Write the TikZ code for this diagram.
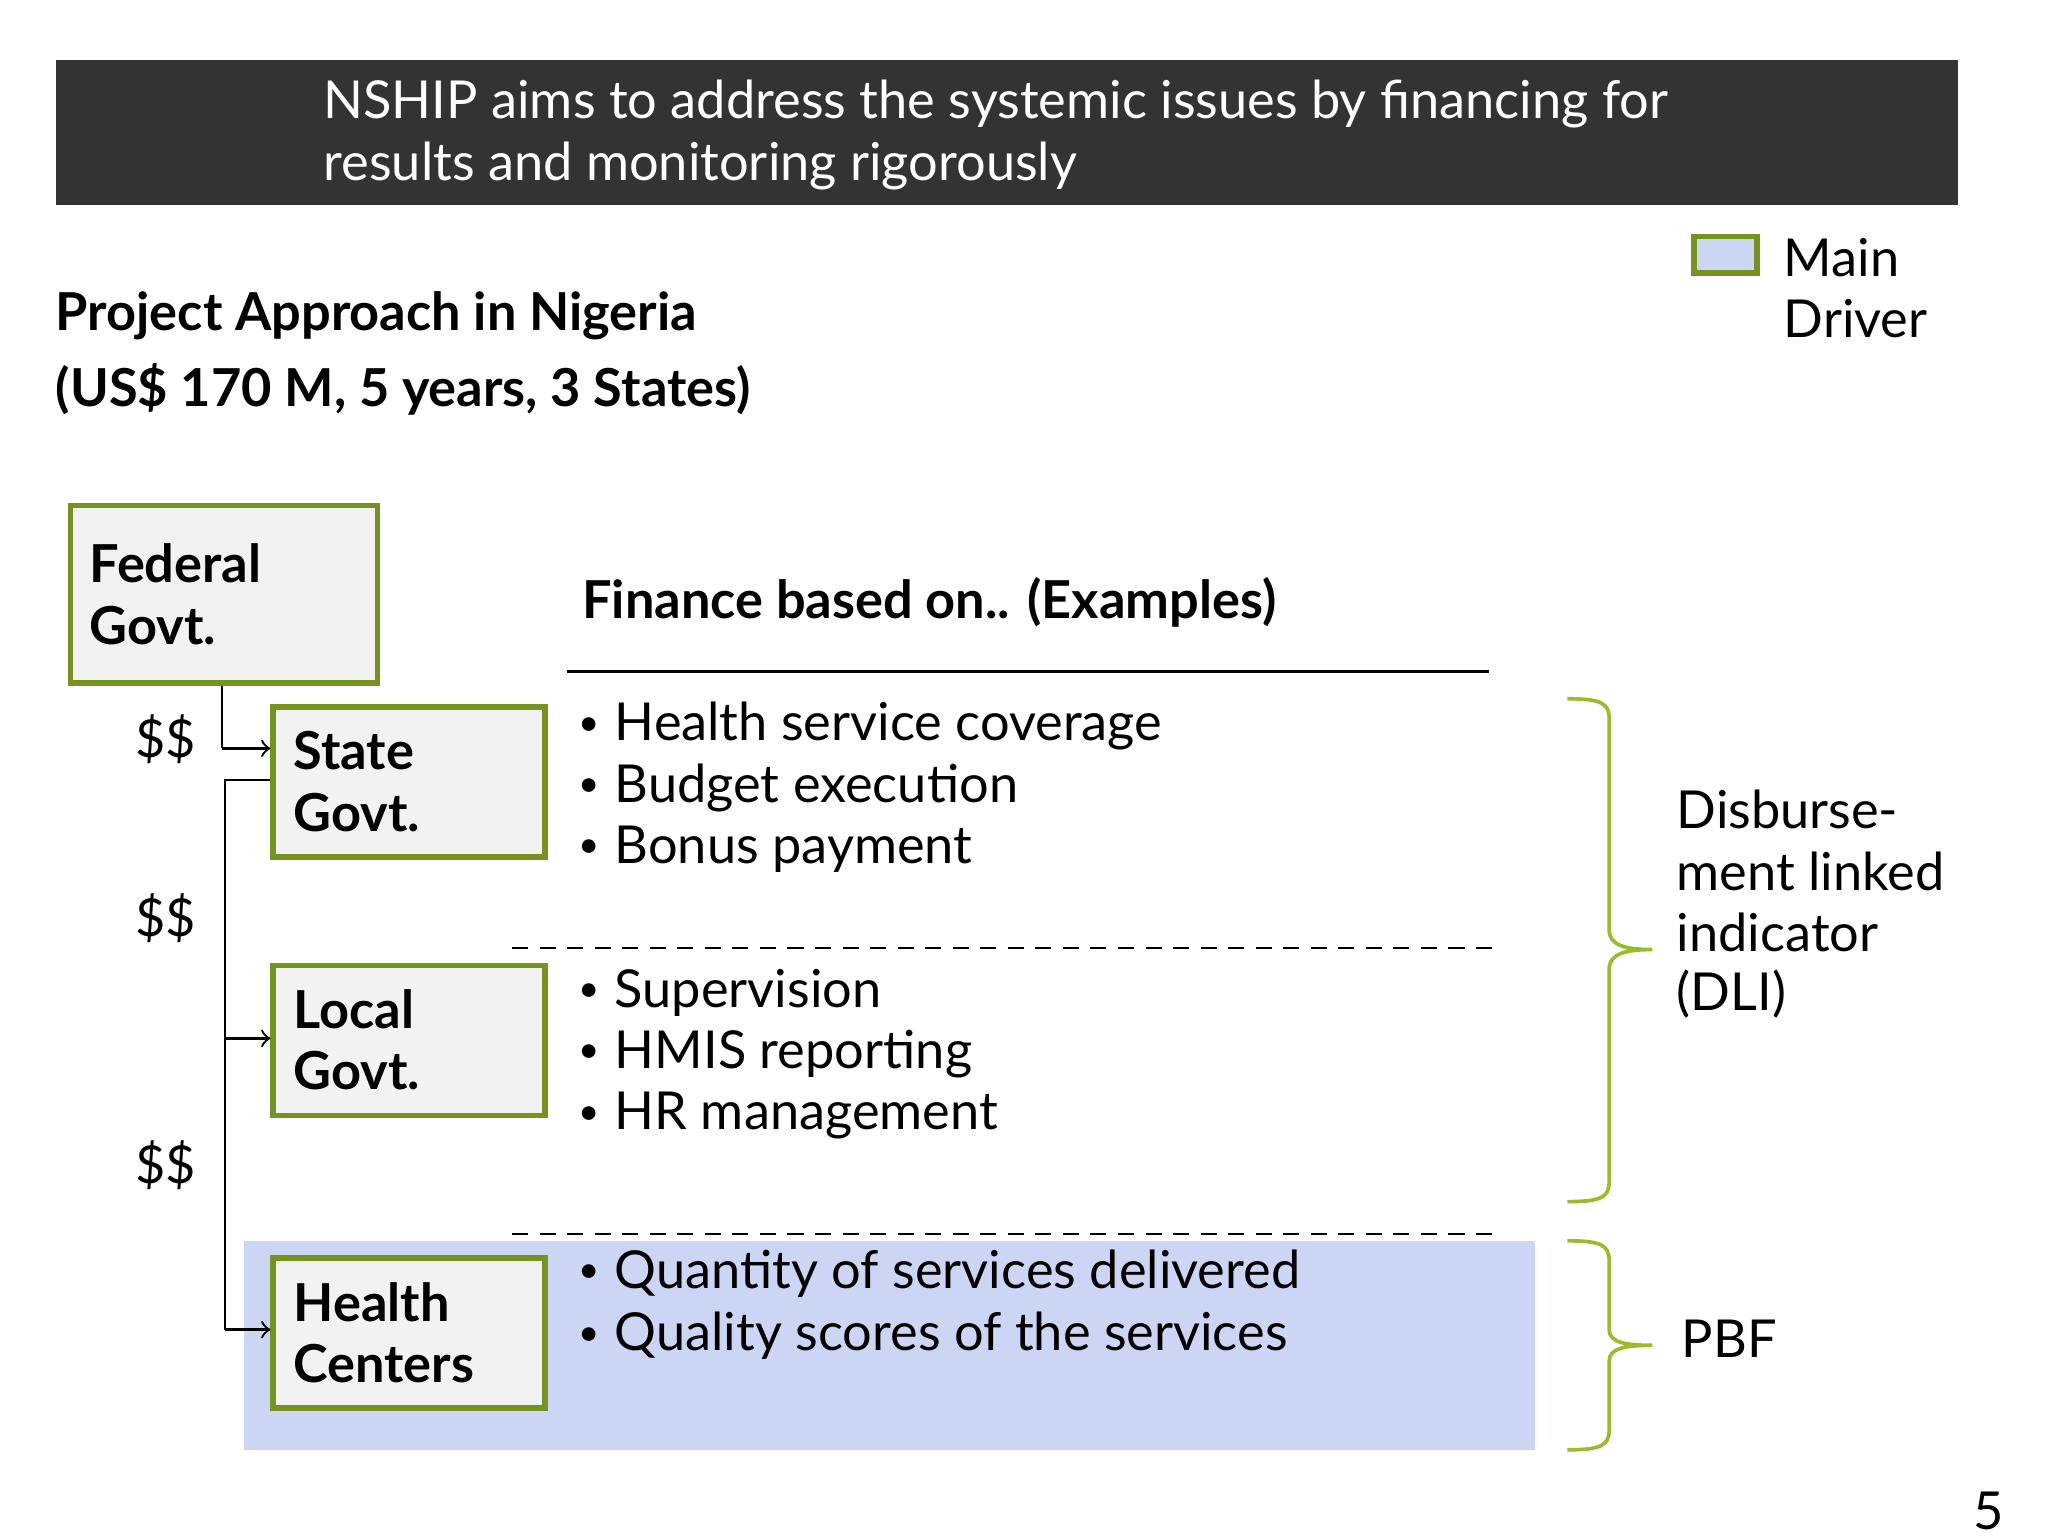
\documentclass[tikz,border=0pt]{standalone}
\usepackage{fontspec}
\setmainfont{Lato}
\begin{document}
\begin{tikzpicture}[x=1cm,y=-1cm,
  txt/.style={anchor=west,inner sep=0pt,font=\fontsize{11.4pt}{13pt}\selectfont},
  btxt/.style={txt,font=\fontsize{11.4pt}{13pt}\selectfont\bfseries},
  lvl/.style={draw=boxgreen,line width=1.2pt,fill=boxgray,minimum width=2.08cm,minimum height=1.15cm,anchor=north west,inner sep=0pt},
  arr/.style={->,>=to,line width=0.5pt},
  brace/.style={draw=bracegreen,line width=0.8pt}]
\definecolor{boxgreen}{HTML}{77931F}
\definecolor{boxgray}{HTML}{F2F2F2}
\definecolor{lblue}{HTML}{CCD6F4}
\definecolor{bracegreen}{HTML}{9BBB2A}
\definecolor{dark}{HTML}{333333}
\useasboundingbox[fill=white] (0,0) rectangle (15.68,11.76);
\fill[dark] (0.43,0.46) rectangle (14.99,1.57);
\node[txt,text=white] (t1) at (2.47,0.80) {NSHIP aims to address the systemic issues by financing for};
\node[txt,text=white] (t2) at (2.47,1.27) {results and monitoring rigorously};
\node[draw=boxgreen,line width=1.2pt,fill=lblue,minimum width=0.48cm,minimum height=0.28cm,anchor=north west,inner sep=0pt] (leg) at (12.95,1.79) {};
\node[txt] (m1) at (13.65,1.97) {Main};
\node[txt] (m2) at (13.65,2.44) {Driver};
\node[btxt] (p1) at (0.42,2.42) {Project Approach in Nigeria};
\node[btxt] (p2) at (0.42,2.98) {(US\$ 170 M, 5 years, 3 States)};
\fill[lblue] (1.87,9.50) rectangle (11.75,11.10);
\node[lvl,minimum width=2.35cm,minimum height=1.36cm] (fed) at (0.52,3.85) {};
\node[btxt] at (0.68,4.31) {Federal};
\node[btxt] at (0.68,4.79) {Govt.};
\node[lvl] (st) at (2.07,5.39) {};
\node[btxt] at (2.24,5.75) {State};
\node[btxt] at (2.24,6.22) {Govt.};
\node[lvl] (lo) at (2.07,7.37) {};
\node[btxt] at (2.24,7.73) {Local};
\node[btxt] at (2.24,8.20) {Govt.};
\node[lvl] (hc) at (2.07,9.61) {};
\node[btxt] at (2.24,9.97) {Health};
\node[btxt] at (2.24,10.44) {Centers};
\coordinate (c1) at (1.70,5.73);
\draw[line width=0.5pt] (fed.south -| c1) -- (c1);
\draw[arr] (c1) -- (c1 -| st.west);
\coordinate (v0) at (1.72,5.97);
\coordinate (v1) at (1.72,7.95);
\coordinate (v2) at (1.72,10.18);
\draw[line width=0.5pt] (v0 -| st.west) -- (v0) -- (v2);
\draw[arr] (v1) -- (v1 -| lo.west);
\draw[arr] (v2) -- (v2 -| hc.west);
\node[txt] at (1.03,5.66) {\$\$};
\node[txt] at (1.03,7.03) {\$\$};
\node[txt] at (1.03,8.92) {\$\$};
\node[btxt] (fb) at (4.45,4.61) {Finance based on.. (Examples)};
\draw[line width=0.6pt] (4.34,5.14) -- (11.40,5.14);
\foreach \y/\t in {5.56/Health service coverage,6.03/Budget execution,6.50/Bonus payment,7.60/Supervision,8.07/HMIS reporting,8.54/HR management,9.75/Quantity of services delivered,10.23/Quality scores of the services}{
  \node[txt,font=\fontsize{8pt}{9pt}\selectfont] at (4.42,\y) {•};
  \node[txt] at (4.70,\y) {\t};
}
\draw[dash pattern=on 3.5pt off 2.5pt,line width=0.5pt] (3.92,7.26) -- (11.48,7.26);
\draw[dash pattern=on 3.5pt off 2.5pt,line width=0.5pt] (3.92,9.45) -- (11.48,9.45);
\draw[brace] (12.00,5.35) .. controls (12.25,5.35) and (12.32,5.38) .. (12.32,5.50) -- (12.32,7.12) .. controls (12.32,7.24) and (12.45,7.27) .. (12.65,7.27) .. controls (12.45,7.27) and (12.32,7.30) .. (12.32,7.42) -- (12.32,9.05) .. controls (12.32,9.17) and (12.25,9.20) .. (12.00,9.20);
\draw[brace] (12.00,9.50) .. controls (12.25,9.50) and (12.32,9.53) .. (12.32,9.65) -- (12.32,10.18) .. controls (12.32,10.28) and (12.45,10.30) .. (12.65,10.30) .. controls (12.45,10.30) and (12.32,10.32) .. (12.32,10.42) -- (12.32,10.95) .. controls (12.32,11.07) and (12.25,11.10) .. (12.00,11.10);
\node[txt] at (12.83,6.20) {Disburse-};
\node[txt] at (12.83,6.67) {ment linked};
\node[txt] at (12.83,7.14) {indicator};
\node[txt] at (12.83,7.61) {(DLI)};
\node[txt] at (12.87,10.25) {PBF};
\node[txt] at (15.10,11.57) {5};
\end{tikzpicture}
\end{document}
